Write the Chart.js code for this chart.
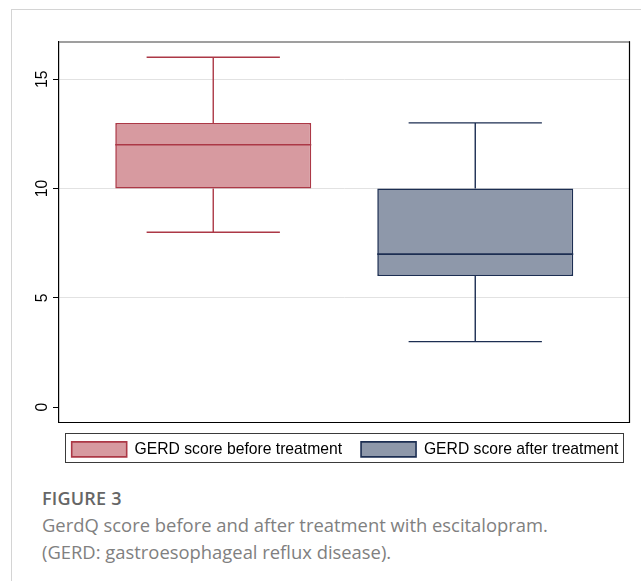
<!DOCTYPE html>
<html>
<head>
<meta charset="utf-8">
<script src="https://cdn.jsdelivr.net/npm/chart.js@4.4.1/dist/chart.umd.min.js"></script>
<style>
  html, body { margin: 0; padding: 0; background: #fff; }
  body { width: 641px; height: 581px; position: relative; overflow: hidden; }
  .panel { position: absolute; left: 11px; top: 9px; width: 640px; height: 600px;
           border-left: 1px solid #d4d4d4; border-top: 1px solid #d4d4d4; }
  .chart-wrap { position: absolute; left: 11px; top: 10px; width: 668px; height: 470px; }
  .caption { position: absolute; left: 42px; top: 485px; width: 595px;
             font-family: "Open Sans", "Noto Sans", sans-serif; color: #808080; }
  .caption .title { font-size: 18px; font-weight: 600; color: #666; line-height: 26px; letter-spacing: 0.2px; }
  .caption .text { font-size: 18.4px; line-height: 27px; }
</style>
</head>
<body>
<div class="panel"></div>
<div class="chart-wrap"><canvas id="chart"></canvas></div>
<div class="caption">
  <div class="title">FIGURE 3</div>
  <div class="text">GerdQ score before and after treatment with escitalopram.<br>(GERD: gastroesophageal reflux disease).</div>
</div>
<script>
// GerdQ scores, five-number summary per group
const groups   = ['GERD score before treatment', 'GERD score after treatment'];
const mins     = [8, 3];
const q1s      = [10, 6];
const medians  = [12, 7];
const q3s      = [13, 10];
const maxs     = [16, 13];
const yTicks   = [0, 5, 10, 15];

const fills   = ['rgb(215,154,160)', 'rgb(142,152,170)'];
const strokes = ['rgb(172,56,70)', 'rgb(28,46,82)'];

const FONT = '"Liberation Sans", Arial, sans-serif';

// whiskers, caps and median lines drawn on top of the floating-bar boxes
const boxWhiskers = {
  id: 'boxWhiskers',
  afterDatasetsDraw(chart) {
    const ctx = chart.ctx;
    const y = chart.scales.y;
    chart.data.datasets.forEach((ds, i) => {
      const bar = chart.getDatasetMeta(i).data[0];
      if (!bar) return;
      const x = bar.x, w = bar.width;
      const cap = w * 0.68;
      ctx.save();
      ctx.strokeStyle = strokes[i];
      ctx.lineWidth = 1.4;
      ctx.beginPath();
      // upper whisker + cap
      ctx.moveTo(x, y.getPixelForValue(q3s[i]));
      ctx.lineTo(x, y.getPixelForValue(maxs[i]));
      ctx.moveTo(x - cap / 2, y.getPixelForValue(maxs[i]));
      ctx.lineTo(x + cap / 2, y.getPixelForValue(maxs[i]));
      // lower whisker + cap
      ctx.moveTo(x, y.getPixelForValue(q1s[i]));
      ctx.lineTo(x, y.getPixelForValue(mins[i]));
      ctx.moveTo(x - cap / 2, y.getPixelForValue(mins[i]));
      ctx.lineTo(x + cap / 2, y.getPixelForValue(mins[i]));
      ctx.stroke();
      // median
      ctx.lineWidth = 1.6;
      ctx.beginPath();
      ctx.moveTo(x - w / 2, y.getPixelForValue(medians[i]));
      ctx.lineTo(x + w / 2, y.getPixelForValue(medians[i]));
      ctx.stroke();
      ctx.restore();
    });
  }
};

// plot frame: grey top edge, black right and bottom edges
const plotFrame = {
  id: 'plotFrame',
  afterDatasetsDraw(chart) {
    const { ctx, chartArea: a } = chart;
    ctx.save();
    ctx.strokeStyle = '#7f7f7f';
    ctx.lineWidth = 1.6;
    ctx.beginPath();
    ctx.moveTo(a.left, a.top);
    ctx.lineTo(a.right + 0.5, a.top);
    ctx.stroke();
    ctx.strokeStyle = '#000';
    ctx.lineWidth = 1.2;
    ctx.beginPath();
    ctx.moveTo(a.right, a.top - 0.8);
    ctx.lineTo(a.right, a.bottom);
    ctx.lineTo(a.left, a.bottom);
    ctx.stroke();
    ctx.restore();
  }
};

// outline around the legend items
const legendFrame = {
  id: 'legendFrame',
  afterDraw(chart) {
    const boxes = chart.legend && chart.legend.legendHitBoxes;
    if (!boxes || !boxes.length) return;
    const left = Math.min(...boxes.map(b => b.left)) - 6.5;
    const right = Math.max(...boxes.map(b => b.left + b.width)) + 5;
    const top = Math.min(...boxes.map(b => b.top)) - 8.2;
    const bottom = Math.max(...boxes.map(b => b.top + b.height)) + 4.8;
    const ctx = chart.ctx;
    ctx.save();
    ctx.strokeStyle = '#3a3a3a';
    ctx.lineWidth = 1;
    ctx.strokeRect(Math.round(left) + 0.5, Math.round(top) + 0.5,
                   Math.round(right - left), Math.round(bottom - top));
    ctx.restore();
  }
};

new Chart(document.getElementById('chart'), {
  type: 'bar',
  data: {
    labels: [''],
    datasets: groups.map((g, i) => ({
      label: g,
      data: [[q1s[i], q3s[i]]],
      backgroundColor: fills[i],
      borderColor: strokes[i],
      borderWidth: 1.6,
      borderSkipped: false,
      categoryPercentage: 0.9185,
      barPercentage: 0.748
    }))
  },
  options: {
    responsive: true,
    maintainAspectRatio: false,
    animation: false,
    layout: { padding: { top: 32, right: 0, bottom: 12.8, left: 0 } },
    scales: {
      x: { display: false, offset: true },
      y: {
        min: -0.7,
        max: 16.7,
        afterBuildTicks: s => { s.ticks = yTicks.map(v => ({ value: v })); },
        afterFit: s => { s.width = 48; },
        ticks: {
          minRotation: 90,
          maxRotation: 90,
          crossAlign: 'center',
          padding: 2,
          color: '#000',
          font: { family: FONT, size: 15.7 }
        },
        grid: {
          color: c => (c.tick && c.tick.value === 0) ? 'rgba(0,0,0,0)' : '#e2e2e2',
          tickColor: '#000',
          tickLength: 6,
          lineWidth: 1
        },
        border: { display: true, color: '#000', width: 1.2 }
      },
      // empty right-hand margin axis
      yRight: {
        type: 'linear',
        position: 'right',
        display: true,
        afterFit: s => { s.width = 49.5; },
        ticks: { display: false },
        grid: { display: false, drawTicks: false },
        border: { display: false }
      }
    },
    plugins: {
      legend: {
        position: 'bottom',
        align: 'center',
        fullSize: true,
        labels: {
          boxWidth: 55,
          boxHeight: 15,
          padding: 19,
          color: '#000',
          font: { family: FONT, size: 15.7 }
        }
      },
      tooltip: { enabled: false }
    }
  },
  plugins: [boxWhiskers, plotFrame, legendFrame]
});
</script>
</body>
</html>
